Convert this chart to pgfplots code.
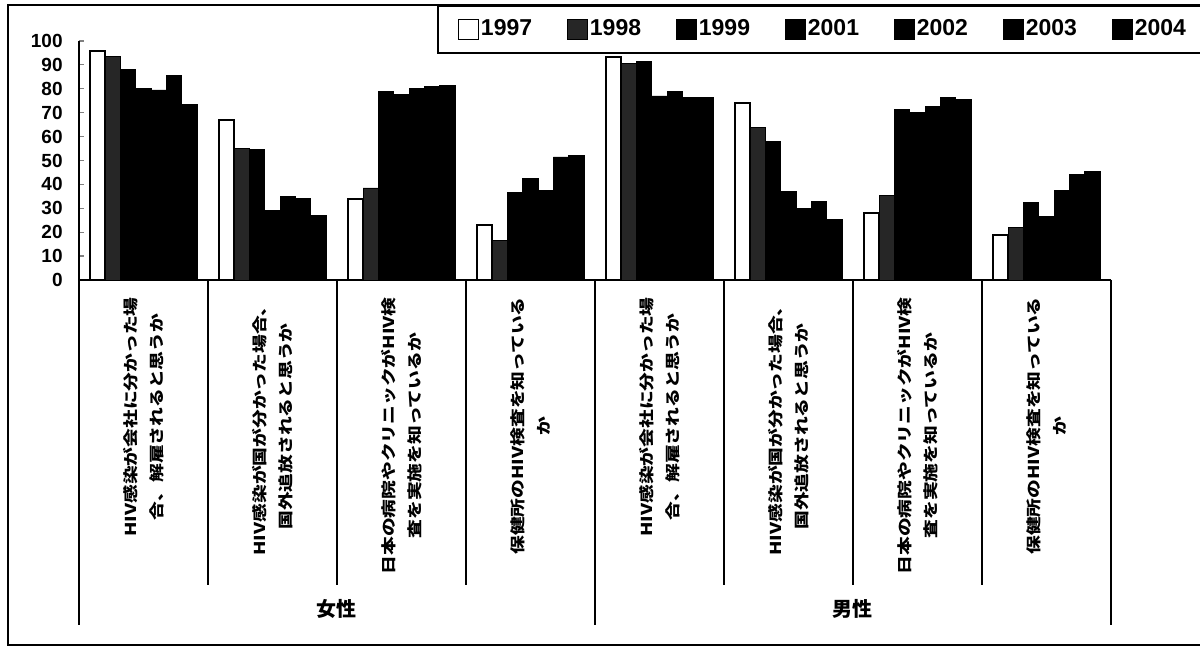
\documentclass[border=0pt]{standalone}
\usepackage{fontspec}
\setmainfont{Liberation Sans}
\newfontfamily\cjk{Noto Sans CJK JP}[FakeStretch=1.25]
\newfontfamily\cjkn{Noto Sans CJK JP}
\usepackage{pgfplots}
\pgfplotsset{compat=1.18}
\begin{document}
\begin{tikzpicture}
\useasboundingbox (0pt,0pt) rectangle (600pt,323.5pt);
\draw[line width=0.8pt] (4pt,1pt) rectangle (603pt,321pt);
\begin{axis}[
  at={(39.5pt,183.5pt)}, anchor=south west,
  scale only axis, width=516pt, height=119.5pt,
  ybar=0pt, bar width=0.1186,
  xmin=0.5, xmax=8.5, ymin=0, ymax=100,
  axis x line*=bottom, axis y line*=left,
  axis line style={-, line width=0.8pt},
  xtick={1,...,8},
  xticklabels={
    {HIV感染が会社に分かった場\\合、解雇されると思うか},
    {HIV感染が国が分かった場合、\\国外追放されると思うか},
    {日本の病院やクリニックがHIV検\\査を実施を知っているか},
    {保健所のHIV検査を知っている\\か},
    {HIV感染が会社に分かった場\\合、解雇されると思うか},
    {HIV感染が国が分かった場合、\\国外追放されると思うか},
    {日本の病院やクリニックがHIV検\\査を実施を知っているか},
    {保健所のHIV検査を知っている\\か}},
  xticklabel style={rotate=90, anchor=east, align=center, inner sep=0pt,
    font=\cjk\bfseries\fontsize{7.5pt}{12.8pt}\selectfont},
  xticklabel shift=8.5pt,
  major x tick style={draw=none},
  ytick={0,10,...,100},
  tick align=inside, major tick length=2.5pt,
  y tick style={line width=0.6pt},
  yticklabel style={font=\bfseries\fontsize{9.5pt}{10pt}\selectfont, inner sep=0pt, xshift=-8pt},
  /pgf/number format/assume math mode=true,
  clip=false,
  legend columns=7,
  legend cell align=left,
  legend image code/.code={\draw[#1, line width=0.6pt] (0pt,-5pt) rectangle (10pt,5pt);},
  legend style={at={(0.3469,1.1506)}, anchor=north west, draw=black, line width=0.8pt,
    inner xsep=10pt, inner ysep=6pt,
    font=\bfseries\fontsize{11.5pt}{12pt}\selectfont,
    nodes={inner sep=1pt},
    /tikz/every even column/.append style={column sep=16.3pt}},
]
\addplot[fill=white, draw=black, line width=1pt] coordinates {(1,96) (2,67) (3,34) (4,23) (5,93.5) (6,74) (7,28) (8,19)};
\addplot[fill=black!85, draw=black] coordinates {(1,93.5) (2,55) (3,38.5) (4,16.5) (5,90.5) (6,64) (7,35.5) (8,22)};
\addplot[fill=black, draw=black] coordinates {(1,88) (2,54.5) (3,79) (4,36.5) (5,91.5) (6,58) (7,71.5) (8,32.5)};
\addplot[fill=black, draw=black] coordinates {(1,80) (2,29) (3,77.5) (4,42.5) (5,77) (6,37) (7,70) (8,26.5)};
\addplot[fill=black, draw=black] coordinates {(1,79.5) (2,35) (3,80) (4,37.5) (5,79) (6,30) (7,72.5) (8,37.5)};
\addplot[fill=black, draw=black] coordinates {(1,85.5) (2,34) (3,81) (4,51.5) (5,76.5) (6,33) (7,76.5) (8,44)};
\addplot[fill=black, draw=black] coordinates {(1,73.5) (2,27) (3,81.5) (4,52) (5,76.5) (6,25.5) (7,75.5) (8,45.5)};
\legend{1997,1998,1999,2001,2002,2003,2004}
\draw[line width=0.6pt] (axis cs:1.5,0) -- ++(0pt,-152.5pt);
\draw[line width=0.6pt] (axis cs:2.5,0) -- ++(0pt,-152.5pt);
\draw[line width=0.6pt] (axis cs:3.5,0) -- ++(0pt,-152.5pt);
\draw[line width=0.6pt] (axis cs:5.5,0) -- ++(0pt,-152.5pt);
\draw[line width=0.6pt] (axis cs:6.5,0) -- ++(0pt,-152.5pt);
\draw[line width=0.6pt] (axis cs:7.5,0) -- ++(0pt,-152.5pt);
\draw[line width=0.8pt] (axis cs:0.5,0) -- ++(0pt,-172.5pt);
\draw[line width=0.8pt] (axis cs:4.5,0) -- ++(0pt,-172.5pt);
\draw[line width=0.8pt] (axis cs:8.5,0) -- ++(0pt,-172.5pt);
\node[font=\cjkn\bfseries\fontsize{10pt}{12pt}\selectfont] at ([yshift=-164.5pt]axis cs:2.5,0) {女性};
\node[font=\cjkn\bfseries\fontsize{10pt}{12pt}\selectfont] at ([yshift=-164.5pt]axis cs:6.5,0) {男性};
\end{axis}
\end{tikzpicture}
\end{document}
